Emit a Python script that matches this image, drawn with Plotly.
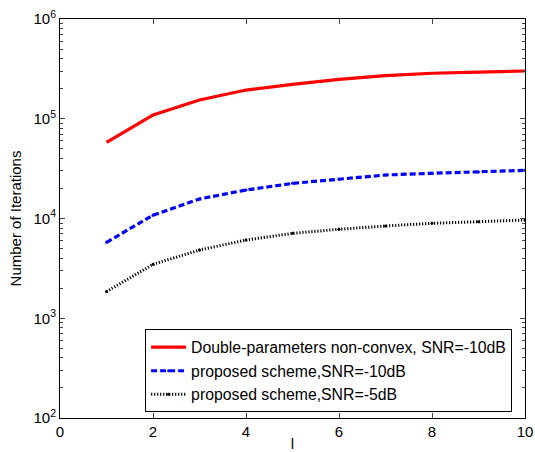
import plotly.graph_objects as go

l_vals = [1, 2, 3, 4, 5, 6, 7, 8, 9, 10]
double_param = [58000, 109000, 154000, 194000, 221000, 248000, 270000, 286000, 294000, 301000]
proposed_m10 = [5770, 10800, 15700, 19300, 22500, 24700, 27300, 28400, 29200, 30400]
proposed_m5 = [1850, 3470, 4830, 6080, 7100, 7800, 8410, 8950, 9290, 9660]

y_tickvals = [100, 1000, 10000, 100000, 1000000]
y_ticktext = ["10<sup>2</sup>", "10<sup>3</sup>", "10<sup>4</sup>", "10<sup>5</sup>", "10<sup>6</sup>"]
x_tickvals = [0, 2, 4, 6, 8, 10]

font = "Arial, Liberation Sans, sans-serif"

fig = go.Figure()
fig.add_trace(go.Scatter(x=l_vals, y=double_param, mode="lines",
                         name="Double-parameters non-convex, SNR=-10dB",
                         line=dict(color="#ff0000", width=3.2)))
fig.add_trace(go.Scatter(x=l_vals, y=proposed_m10, mode="lines+markers",
                         name="proposed scheme,SNR=-10dB",
                         line=dict(color="#0000ff", width=3.2, dash="6px,3px"),
                         marker=dict(color="#0000ff", size=3)))
fig.add_trace(go.Scatter(x=l_vals, y=proposed_m5, mode="lines+markers",
                         name="proposed scheme,SNR=-5dB",
                         line=dict(color="#000000", width=3, dash="1.2px,1.8px"),
                         marker=dict(color="#000000", size=3)))

fig.update_layout(
    width=535, height=452,
    margin=dict(l=60, r=10, t=19, b=34, autoexpand=False),
    paper_bgcolor="white", plot_bgcolor="white",
    font=dict(family=font, size=15, color="black"),
    showlegend=True,
    legend=dict(x=0.183, y=0.118, xanchor="left", yanchor="middle",
                bordercolor="black", borderwidth=1, bgcolor="white",
                font=dict(family=font, size=15.8), itemwidth=35,
                entrywidth=368, entrywidthmode="pixels",
                tracegroupgap=0),
)
fig.update_xaxes(range=[0, 10], tickvals=x_tickvals, ticks="inside", ticklen=5,
                 showline=True, linecolor="black", linewidth=1, mirror="ticks",
                 showgrid=False, zeroline=False, automargin=False,
                 tickfont=dict(size=15),
                 title=dict(text="l", standoff=2, font=dict(size=15)))
fig.update_yaxes(type="log", range=[2, 6], tickvals=y_tickvals, ticktext=y_ticktext,
                 ticks="inside", ticklen=5,
                 minor=dict(ticks="inside", ticklen=3, dtick="D1", showgrid=False),
                 showline=True, linecolor="black", linewidth=1, mirror="allticks",
                 showgrid=False, zeroline=False, automargin=False,
                 tickfont=dict(size=15),
                 title=dict(text="Number of Iterations", standoff=8, font=dict(size=15)))

fig.write_html("out.html", config={"displayModeBar": False},
               post_script="document.body.style.margin='0';document.body.style.overflow='hidden';")
